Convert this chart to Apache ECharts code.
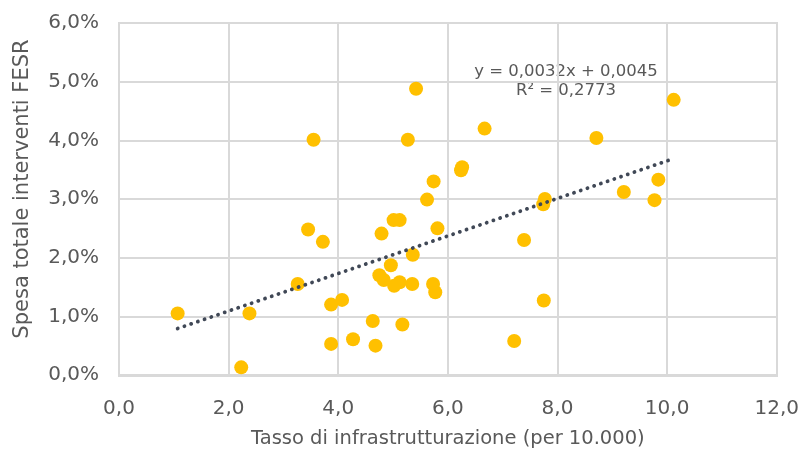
<!DOCTYPE html>
<html><head><meta charset="utf-8">
<script src="https://cdn.jsdelivr.net/npm/echarts@6/dist/echarts.min.js"></script>
<style>html,body{margin:0;padding:0;background:#fff}#c{width:802px;height:454px}</style>
</head><body><div id="c"></div>
<script>
// Tasso di infrastrutturazione (per 10.000)
const xValues = [1.07,2.23,2.38,3.26,3.45,3.55,3.72,3.87,3.87,4.07,4.27,4.63,4.68,4.75,4.79,4.83,4.96,5.01,5.02,5.12,5.12,5.17,5.27,5.35,5.36,5.42,5.62,5.73,5.74,5.77,5.81,6.24,6.26,6.67,7.21,7.39,7.74,7.75,7.77,8.71,9.21,9.77,9.84,10.12];
// Spesa totale interventi FESR (share)
const yValues = [0.0105,0.0013,0.0105,0.0155,0.0248,0.0401,0.0227,0.0120,0.0053,0.0128,0.0061,0.0092,0.0050,0.0170,0.0241,0.0162,0.0187,0.0264,0.0152,0.0264,0.0158,0.0086,0.0401,0.0155,0.0205,0.0488,0.0299,0.0155,0.0330,0.0141,0.0250,0.0349,0.0354,0.0420,0.0058,0.0230,0.0291,0.0127,0.0300,0.0404,0.0312,0.0298,0.0333,0.0469];
const trendSlope = 0.0032, trendIntercept = 0.0045;
const equationText = 'y = 0,0032x + 0,0045';
const r2Text = 'R² = 0,2773';
const xTitle = 'Tasso di infrastrutturazione (per 10.000)';
const yTitle = 'Spesa totale interventi FESR';

const points = xValues.map((x, i) => [x, yValues[i]]);
const xMin = Math.min(...xValues), xMax = Math.max(...xValues);
const trend = [[xMin, trendIntercept + trendSlope * xMin], [xMax, trendIntercept + trendSlope * xMax]];

const font = '"DejaVu Sans", sans-serif';
const grey = '#595959';
const gridCol = '#D9D9D9';
const chart = echarts.init(document.getElementById('c'));
chart.setOption({
  animation: false,
  textStyle: { fontFamily: font },
  grid: { left: 119, right: 25, top: 23, bottom: 78 },
  xAxis: {
    type: 'value', min: 0, max: 12, interval: 2,
    axisLine: { show: true, lineStyle: { color: gridCol, width: 2 } },
    axisTick: { show: false },
    splitLine: { show: true, lineStyle: { color: gridCol, width: 2 } },
    axisLabel: { color: grey, fontSize: 20, margin: 24, formatter: v => v.toFixed(1).replace('.', ',') },
    name: xTitle, nameLocation: 'middle', nameGap: 54,
    nameTextStyle: { color: grey, fontSize: 19.5 }
  },
  yAxis: {
    type: 'value', min: 0, max: 0.06, interval: 0.01,
    axisLine: { show: true, lineStyle: { color: gridCol, width: 2 } },
    axisTick: { show: false },
    splitLine: { show: true, lineStyle: { color: gridCol, width: 2 } },
    axisLabel: { color: grey, fontSize: 20, margin: 20, formatter: v => (v * 100).toFixed(1).replace('.', ',') + '%' },
    name: yTitle, nameLocation: 'middle', nameGap: 86, nameRotate: 90,
    nameTextStyle: { color: grey, fontSize: 21, padding: [0, 0, 0, 20] }
  },
  graphic: [
    { type: 'rect', shape: { x: 119, y: 23, width: 658, height: 353 }, style: { fill: 'none', stroke: gridCol, lineWidth: 2 }, z: 0, silent: true },
    { type: 'text', x: 566, y: 72, style: { text: equationText, fill: grey, font: '16.5px ' + font, align: 'center', verticalAlign: 'middle' } },
    { type: 'text', x: 566, y: 91, style: { text: r2Text, fill: grey, font: '16.5px ' + font, align: 'center', verticalAlign: 'middle' } }
  ],
  series: [
    { type: 'scatter', data: points, symbolSize: 14, itemStyle: { color: '#FFC000', opacity: 1 }, z: 2 },
    { type: 'line', data: trend, symbol: 'none', z: 3,
      lineStyle: { color: '#404856', width: 3.8, type: [0.1, 7], cap: 'round' } }
  ]
});
</script></body></html>
